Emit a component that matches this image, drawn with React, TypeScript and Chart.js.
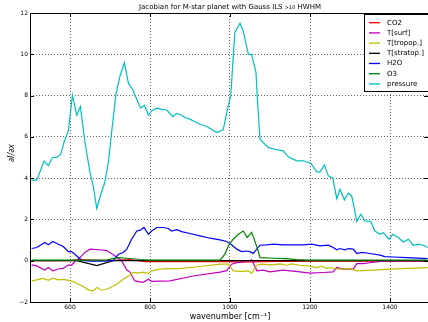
import React, { useEffect, useRef } from "react";
import { Chart, registerables } from "chart.js";

Chart.register(...registerables);

const FONT = "'DejaVu Sans', sans-serif";

const TITLE_MAIN = "Jacobian for M-star planet with Gauss ILS ";
const TITLE_SMALL = ">10";
const TITLE_END = " HWHM";
const X_LABEL = "wavenumber [cm\u207B\u00B9]";
const Y_LABEL = "\u2202I/\u2202x";

const X_TICKS = [600, 800, 1000, 1200, 1400];
const Y_TICKS = [-2, 0, 2, 4, 6, 8, 10, 12];
const X_MIN = 500;
const X_MAX = 1495;
const Y_MIN = -2;
const Y_MAX = 12;

const CO2_X = [504, 600, 625, 650, 700, 750, 790, 990, 1020, 1060, 1080, 1200, 1494];
const CO2_Y = [0, 0, 0.05, 0.03, 0, 0.05, -0.04, -0.04, -0.06, -0.06, -0.04, -0.02, -0.02];

const TSURF_X = [504, 517, 537, 546, 557, 571, 583, 596, 604, 612, 625, 637, 650, 675, 692, 712, 729, 742, 750, 762, 783, 796, 804, 850, 908, 975, 992, 1004, 1017, 1042, 1054, 1058, 1067, 1083, 1100, 1133, 1175, 1200, 1233, 1258, 1267, 1283, 1308, 1317, 1333, 1350, 1371, 1392, 1494];
const TSURF_Y = [-0.2, -0.25, -0.45, -0.33, -0.49, -0.4, -0.37, -0.2, -0.22, -0.04, 0.15, 0.4, 0.56, 0.53, 0.49, 0.24, 0.0, -0.45, -0.55, -0.98, -1.05, -0.9, -1.0, -0.98, -0.74, -0.55, -0.48, -0.17, -0.09, -0.05, 0.05, -0.1, -0.49, -0.46, -0.54, -0.46, -0.54, -0.6, -0.57, -0.54, -0.33, -0.41, -0.41, -0.14, -0.14, -0.1, -0.05, 0.0, -0.02];

const TTROP_X = [504, 517, 533, 546, 557, 571, 583, 596, 604, 617, 633, 646, 658, 667, 679, 695, 717, 733, 750, 758, 771, 783, 796, 804, 825, 846, 875, 925, 975, 996, 1008, 1029, 1046, 1054, 1067, 1079, 1108, 1125, 1142, 1154, 1175, 1200, 1217, 1229, 1242, 1250, 1262, 1275, 1300, 1317, 1358, 1400, 1494];
const TTROP_Y = [-0.98, -0.93, -0.86, -0.95, -0.85, -0.93, -0.9, -0.95, -0.98, -1.09, -1.25, -1.41, -1.46, -1.3, -1.43, -1.36, -1.14, -0.9, -0.69, -0.57, -0.6, -0.55, -0.62, -0.49, -0.41, -0.38, -0.38, -0.28, -0.17, -0.17, -0.49, -0.52, -0.49, -0.61, -0.22, -0.17, -0.2, -0.15, -0.22, -0.15, -0.22, -0.26, -0.33, -0.26, -0.38, -0.33, -0.38, -0.41, -0.38, -0.49, -0.46, -0.41, -0.33];

const TSTRAT_X = [504, 617, 667, 708, 1494];
const TSTRAT_Y = [0, 0, -0.24, 0, 0];

const H2O_X = [504, 517, 537, 546, 557, 571, 583, 596, 604, 617, 629, 650, 680, 708, 721, 733, 742, 754, 767, 775, 785, 796, 804, 817, 833, 846, 854, 867, 879, 900, 925, 950, 975, 992, 1004, 1017, 1029, 1042, 1050, 1058, 1067, 1075, 1092, 1108, 1133, 1158, 1183, 1204, 1225, 1246, 1258, 1267, 1275, 1287, 1296, 1308, 1317, 1329, 1350, 1375, 1387, 1408, 1442, 1494];
const H2O_Y = [0.59, 0.64, 0.88, 0.77, 0.93, 0.8, 0.69, 0.44, 0.44, 0.23, 0.02, -0.02, -0.02, 0.0, 0.31, 0.4, 0.56, 1.04, 1.44, 1.47, 1.61, 1.28, 1.44, 1.61, 1.61, 1.56, 1.44, 1.5, 1.41, 1.32, 1.2, 1.09, 1.01, 0.93, 0.77, 0.56, 0.44, 0.47, 0.44, 0.35, 0.56, 0.75, 0.77, 0.8, 0.77, 0.77, 0.77, 0.8, 0.72, 0.75, 0.64, 0.53, 0.59, 0.53, 0.59, 0.56, 0.35, 0.4, 0.35, 0.27, 0.2, 0.18, 0.15, 0.1];

const O3_X = [504, 690, 721, 742, 775, 800, 975, 987, 996, 1008, 1021, 1033, 1043, 1054, 1062, 1069, 1075, 1108, 1142, 1167, 1200, 1494];
const O3_Y = [0.03, 0.03, 0.15, 0.12, 0.06, 0.03, 0.03, 0.31, 0.72, 1.04, 1.28, 1.44, 1.12, 1.37, 0.96, 0.56, 0.15, 0.12, 0.1, 0.05, 0.03, 0.03];

const PRES_X = [504, 517, 535, 546, 556, 567, 577, 586, 596, 606, 617, 626, 637, 650, 658, 667, 677, 687, 696, 704, 715, 725, 736, 746, 756, 767, 776, 786, 796, 804, 817, 827, 842, 857, 867, 879, 887, 900, 912, 925, 942, 967, 983, 993, 1002, 1012, 1025, 1033, 1046, 1054, 1065, 1068, 1075, 1096, 1112, 1133, 1146, 1167, 1183, 1202, 1217, 1225, 1236, 1246, 1257, 1267, 1275, 1286, 1296, 1304, 1309, 1317, 1327, 1337, 1352, 1362, 1375, 1383, 1398, 1407, 1421, 1433, 1446, 1458, 1471, 1483, 1494];
const PRES_Y = [3.9, 3.9, 4.83, 4.6, 5.0, 5.0, 5.16, 5.8, 6.29, 8.02, 7.05, 7.47, 5.8, 4.27, 3.63, 2.53, 3.22, 3.79, 4.76, 6.21, 8.07, 8.95, 9.6, 8.6, 8.31, 7.82, 7.39, 7.53, 7.05, 7.26, 7.39, 7.34, 7.3, 6.98, 7.13, 7.05, 6.94, 6.86, 6.73, 6.61, 6.5, 6.21, 6.34, 7.26, 8.02, 11.05, 11.5, 11.13, 10.0, 10.0, 9.12, 7.99, 5.89, 5.48, 5.4, 5.32, 5.03, 4.84, 4.84, 4.72, 4.3, 4.3, 4.63, 4.11, 4.0, 3.01, 3.46, 2.95, 3.27, 3.15, 2.7, 1.9, 2.25, 1.93, 1.9, 1.44, 1.28, 1.36, 1.04, 1.28, 1.12, 0.91, 1.04, 0.75, 0.8, 0.75, 0.64];

const SERIES_LABELS = ["CO2", "T[surf]", "T[tropop.]", "T[stratop.]", "H2O", "O3", "pressure"];
const SERIES_COLORS = ["#ff0000", "#bf00bf", "#bfbf00", "#000000", "#0000ff", "#008000", "#00bfbf"];
const SERIES_X = [CO2_X, TSURF_X, TTROP_X, TSTRAT_X, H2O_X, O3_X, PRES_X];
const SERIES_Y = [CO2_Y, TSURF_Y, TTROP_Y, TSTRAT_Y, H2O_Y, O3_Y, PRES_Y];

const decorPlugin = {
  id: "decor",
  afterDatasetsDraw(chart: any) {
    const { ctx, chartArea } = chart;
    const { left, right, top, bottom } = chartArea;
    const xs = chart.scales.x;
    const ys = chart.scales.y;
    ctx.save();
    ctx.strokeStyle = "#000";
    ctx.lineWidth = 1;
    ctx.setLineDash([]);
    ctx.strokeRect(left + 0.5, top + 0.5, right - left, bottom - top);
    ctx.beginPath();
    X_TICKS.forEach((v) => {
      const px = Math.round(xs.getPixelForValue(v)) + 0.5;
      ctx.moveTo(px, bottom);
      ctx.lineTo(px, bottom - 4);
      ctx.moveTo(px, top);
      ctx.lineTo(px, top + 4);
    });
    Y_TICKS.forEach((v) => {
      const py = Math.round(ys.getPixelForValue(v)) + 0.5;
      ctx.moveTo(left, py);
      ctx.lineTo(left + 4, py);
      ctx.moveTo(right, py);
      ctx.lineTo(right - 4, py);
    });
    ctx.stroke();

    const lx = 364.5, ly = 14.5, lw = 70, lh = 77;
    ctx.fillStyle = "#fff";
    ctx.fillRect(lx, ly, lw, lh);
    ctx.strokeStyle = "#000";
    ctx.lineWidth = 1;
    ctx.strokeRect(lx, ly, lw, lh);
    ctx.font = `7px ${FONT}`;
    ctx.textBaseline = "middle";
    ctx.textAlign = "left";
    SERIES_LABELS.forEach((lab, i) => {
      const yy = 22.7 + i * 10.2;
      ctx.strokeStyle = SERIES_COLORS[i];
      ctx.lineWidth = 1.3;
      ctx.beginPath();
      ctx.moveTo(369, yy);
      ctx.lineTo(380, yy);
      ctx.stroke();
      ctx.fillStyle = "#000";
      ctx.fillText(lab, 387, yy);
    });
    ctx.restore();
  },
  afterDraw(chart: any) {
    const { ctx, chartArea } = chart;
    const cx = (chartArea.left + 430) / 2;
    ctx.save();
    ctx.fillStyle = "#000";
    ctx.textBaseline = "middle";
    const bigFont = `7px ${FONT}`;
    const smallFont = `5px ${FONT}`;
    ctx.font = bigFont;
    const w1 = ctx.measureText(TITLE_MAIN).width;
    const w3 = ctx.measureText(TITLE_END).width;
    ctx.font = smallFont;
    const w2 = ctx.measureText(TITLE_SMALL).width;
    const x0 = cx - (w1 + w2 + w3) / 2;
    ctx.textAlign = "left";
    ctx.font = bigFont;
    ctx.fillText(TITLE_MAIN, x0, 7);
    ctx.font = smallFont;
    ctx.fillText(TITLE_SMALL, x0 + w1, 8);
    ctx.font = bigFont;
    ctx.fillText(TITLE_END, x0 + w1 + w2, 7);

    ctx.textAlign = "center";
    ctx.font = `8px ${FONT}`;
    ctx.fillText(X_LABEL, cx, 317);

    ctx.translate(12, 153);
    ctx.rotate(-Math.PI / 2);
    ctx.font = `italic 8px ${FONT}`;
    ctx.fillText(Y_LABEL, 0, 0);
    ctx.restore();
  },
};

export default function App() {
  const ref = useRef<HTMLCanvasElement | null>(null);
  useEffect(() => {
    if (!ref.current) return;
    const n = SERIES_LABELS.length;
    const chart = new Chart(ref.current, {
      type: "line",
      data: {
        datasets: SERIES_LABELS.map((label, i) => ({
          label,
          data: SERIES_X[i].map((x, j) => ({ x, y: SERIES_Y[i][j] })),
          borderColor: SERIES_COLORS[i],
          backgroundColor: SERIES_COLORS[i],
          borderWidth: 1.2,
          pointRadius: 0,
          fill: false,
          tension: 0,
          order: n - i,
        })),
      },
      options: {
        animation: false,
        responsive: false,
        devicePixelRatio: 1,
        layout: { padding: { top: 13, left: 0, right: 0, bottom: 0 } },
        plugins: {
          legend: { display: false },
          title: { display: false },
          tooltip: { enabled: false },
        },
        scales: {
          x: {
            type: "linear",
            min: X_MIN,
            max: X_MAX,
            afterBuildTicks: (s: any) => {
              s.ticks = X_TICKS.map((v) => ({ value: v }));
            },
            afterFit: (s: any) => {
              s.height = 20;
            },
            ticks: {
              font: { family: FONT, size: 6 },
              color: "#000",
              padding: 2,
              maxRotation: 0,
              autoSkip: false,
              callback: (v: any) => String(v),
            },
            grid: { color: "rgba(0,0,0,0.6)", lineWidth: 1, drawTicks: false },
            border: { display: false, dash: [1, 2] },
          },
          y: {
            type: "linear",
            min: Y_MIN,
            max: Y_MAX,
            afterBuildTicks: (s: any) => {
              s.ticks = Y_TICKS.map((v) => ({ value: v }));
            },
            afterFit: (s: any) => {
              s.width = 30;
            },
            ticks: {
              font: { family: FONT, size: 6 },
              color: "#000",
              padding: 2,
              autoSkip: false,
              callback: (v: any) => (v < 0 ? "\u2212" + Math.abs(v) : String(v)),
            },
            grid: { color: "rgba(0,0,0,0.6)", lineWidth: 1, drawTicks: false },
            border: { display: false, dash: [1, 2] },
          },
        },
      },
      plugins: [decorPlugin],
    } as any);
    return () => chart.destroy();
  }, []);
  return (
    <div style={{ position: "fixed", left: 0, top: 0, width: 428, height: 322, background: "#fff" }}>
      <canvas ref={ref} width={428} height={322} style={{ width: 428, height: 322, display: "block" }} />
    </div>
  );
}
